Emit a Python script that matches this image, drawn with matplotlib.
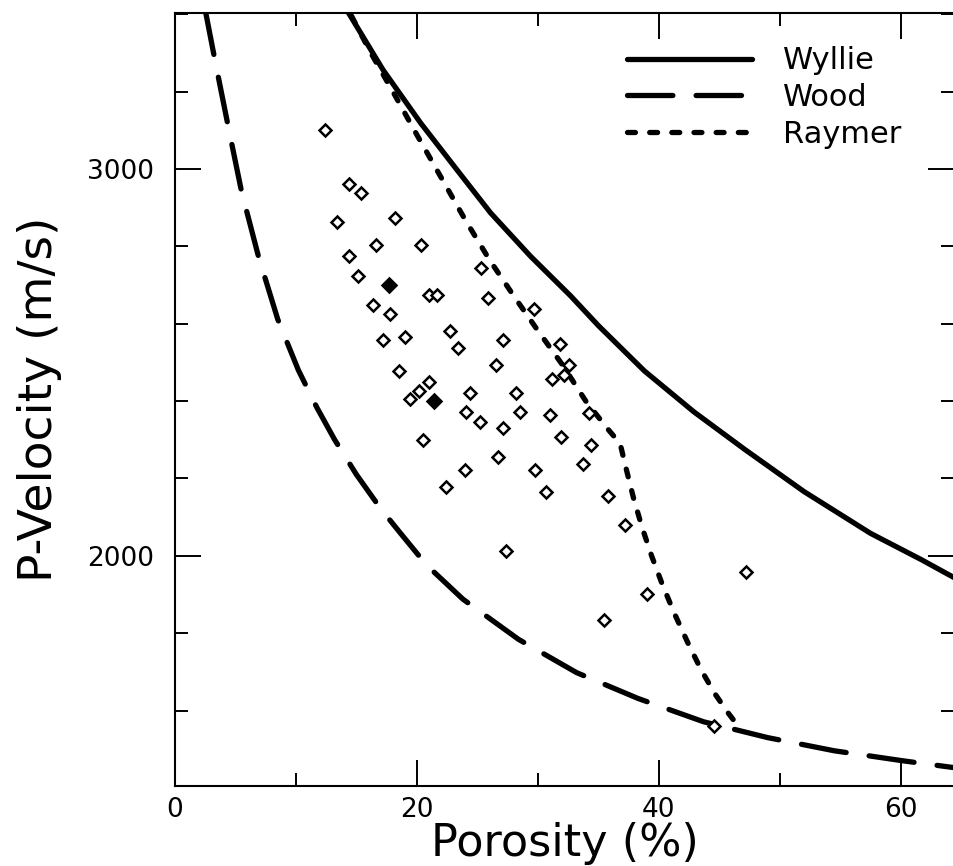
import matplotlib
matplotlib.use("Agg")
import matplotlib.pyplot as plt
from matplotlib.ticker import MultipleLocator, FixedLocator


# -----------------------------
# Data
# -----------------------------

# Wyllie time-average curve (porosity %, velocity m/s)
wyllie_phi = [14.2, 17.2, 20.3, 23.3, 26.1, 29.4, 32.7, 35.0, 38.8, 42.9,
              47.1, 52.0, 57.5, 61.7, 64.5]
wyllie_v = [3411, 3256, 3119, 2998, 2886, 2774, 2672, 2595, 2478, 2372,
            2275, 2166, 2058, 1990, 1942]

# Wood curve
wood_phi = [2.5, 3.3, 4.4, 5.5, 6.9, 8.5, 10.2, 11.7, 13.2, 15.0, 17.0,
            18.6, 20.8, 23.8, 28.4, 33.2, 38.3, 43.7, 49.0, 54.5, 60.2, 64.5]
wood_v = [3411, 3282, 3110, 2942, 2774, 2611, 2480, 2385, 2300, 2210, 2122,
          2060, 1976, 1888, 1784, 1698, 1631, 1571, 1530, 1496, 1470, 1452]

# Raymer curve
raymer_phi = [14.6, 16.1, 18.1, 20.0, 22.0, 24.0, 26.0, 28.0, 30.0, 32.0,
              34.0, 35.8, 36.8, 37.3, 37.9, 38.6, 39.4, 40.3, 41.3, 42.4,
              43.5, 44.6, 45.7, 46.8]
raymer_v = [3395, 3305, 3195, 3088, 2978, 2868, 2765, 2672, 2582, 2495,
            2398, 2327, 2290, 2225, 2150, 2075, 2000, 1925, 1850, 1775,
            1705, 1645, 1595, 1550]

# measured samples (open diamonds)
sample_phi = [12.4, 14.4, 15.4, 13.4, 18.2, 16.6, 20.3, 14.4, 15.1, 21.0,
              21.7, 25.3, 25.9, 16.4, 17.8, 29.7, 22.7, 27.1, 17.2, 19.0,
              23.4, 31.8, 26.5, 18.5, 31.2, 32.6, 32.2, 21.0, 20.2, 19.4,
              24.4, 28.2, 34.2, 31.0, 28.5, 24.1, 25.2, 27.1, 20.5, 31.9,
              34.4, 26.7, 24.0, 29.8, 33.7, 22.4, 30.7, 35.8, 37.2, 27.4,
              47.2, 39.0, 35.5, 44.6]
sample_v = [3101, 2962, 2938, 2863, 2872, 2803, 2803, 2774, 2723, 2675,
            2675, 2744, 2667, 2647, 2626, 2637, 2582, 2557, 2557, 2565,
            2536, 2548, 2493, 2477, 2458, 2493, 2466, 2449, 2426, 2406,
            2421, 2421, 2368, 2363, 2371, 2371, 2345, 2331, 2300, 2308,
            2286, 2255, 2223, 2223, 2236, 2179, 2165, 2154, 2079, 2012,
            1958, 1902, 1834, 1559]

# samples that print as solid blobs
solid_phi = [17.7, 21.4]
solid_v = [2701, 2400]


# -----------------------------
# Plot
# -----------------------------

plt.rcParams['font.family'] = ['DejaVu Sans']

fig = plt.figure(figsize=(9.54, 8.66), dpi=100)
ax = fig.add_axes([0.1834, 0.0924, 0.8166, 0.8926])

lw = 3.8

ax.plot(wyllie_phi, wyllie_v, color='black', lw=lw, solid_capstyle='round',
        solid_joinstyle='round', label='Wyllie')
ax.plot(wood_phi, wood_v, color='black', lw=lw, dashes=(8.6, 4.4),
        dash_capstyle='round', label='Wood')
ax.plot(raymer_phi, raymer_v, color='black', lw=lw, dashes=(1.5, 2.7),
        dash_capstyle='round', label='Raymer')

ax.plot(sample_phi, sample_v, linestyle='none', marker='D', ms=6.2,
        mfc='white', mec='black', mew=1.8)
ax.plot(solid_phi, solid_v, linestyle='none', marker='D', ms=7,
        mfc='black', mec='black', mew=1.8)

ax.set_xlim(0, 64.4)
ax.set_ylim(1405, 3403)

ax.xaxis.set_major_locator(MultipleLocator(20))
ax.xaxis.set_minor_locator(MultipleLocator(10))
ax.yaxis.set_major_locator(FixedLocator([2000, 3000]))
ax.yaxis.set_minor_locator(MultipleLocator(200))

ax.tick_params(which='both', direction='in', top=True, right=True, width=1.4,
               labelsize=19)
ax.tick_params(which='major', length=19)
ax.tick_params(which='minor', length=9.5)
ax.tick_params(axis='x', pad=8)
ax.tick_params(axis='y', pad=15)

for side in ['left', 'bottom', 'top']:
    ax.spines[side].set_linewidth(1.5)
ax.spines['right'].set_visible(False)

ax.set_xlabel("Porosity (%)", fontsize=32)
ax.set_ylabel("P-Velocity (m/s)", fontsize=34)
ax.xaxis.set_label_coords(0.5, -0.046)
ax.yaxis.set_label_coords(-0.145, 0.5)

ax.legend(loc='upper left', bbox_to_anchor=(0.58, 0.957), frameon=False,
          fontsize=22, handlelength=4.1, handletextpad=1.0, labelspacing=0.25,
          borderpad=0, borderaxespad=0)

fig.savefig("out.png", dpi=100)
